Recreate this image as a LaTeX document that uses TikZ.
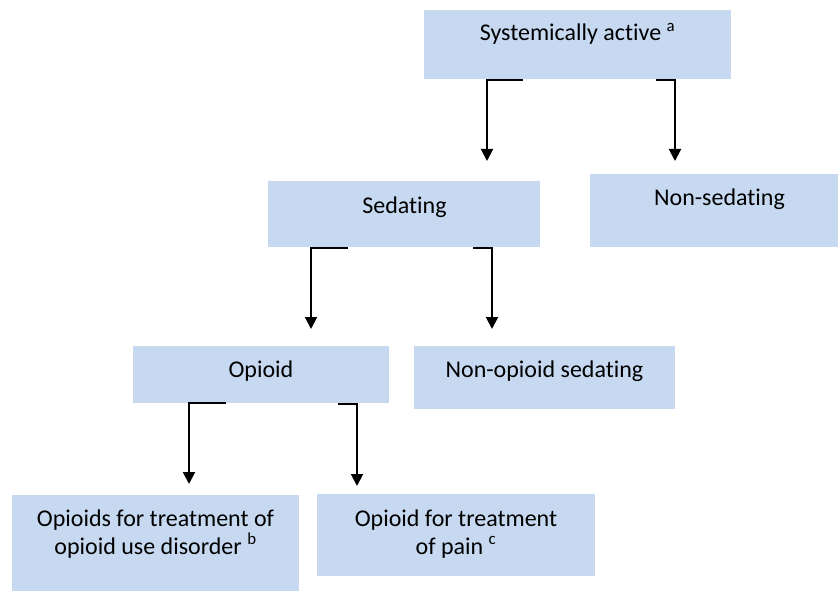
\documentclass[tikz,border=0pt]{standalone}
\usepackage{fontspec}
\setmainfont{Carlito}[Ligatures=NoCommon]
\usetikzlibrary{arrows.meta}
\definecolor{boxblue}{HTML}{C6D9F1}
\begin{document}
\begin{tikzpicture}[x=1pt,y=-1pt,
  box/.style={fill=boxblue, draw=none, inner sep=0pt, outer sep=0pt},
  lbl/.style={font=\fontsize{24}{28}\selectfont, anchor=base, align=center, inner sep=0pt},
  arr/.style={line width=2pt, line join=miter, -{Triangle[width=12pt,length=12pt]}}]
\useasboundingbox (0,0) rectangle (838,591);
% boxes
\node[box, minimum width=307pt, minimum height=69pt] (sys) at (577.5,44.5) {};
\node[box, minimum width=272pt, minimum height=66pt] (sed) at (404,214) {};
\node[box, minimum width=248pt, minimum height=73pt] (nonsed) at (714,210.5) {};
\node[box, minimum width=256pt, minimum height=57pt] (opi) at (261,374.5) {};
\node[box, minimum width=261pt, minimum height=63pt] (nonopi) at (544.5,377.5) {};
\node[box, minimum width=287pt, minimum height=96pt] (oud) at (155.5,543) {};
\node[box, minimum width=278pt, minimum height=82pt] (pain) at (456,535) {};
% labels
\node[lbl] (sysT) at (577.5,41) {Systemically active \textsuperscript{a}};
\node[lbl] (sedT) at (404.5,213) {Sedating};
\node[lbl] (nonsedT) at (719.5,205) {Non-sedating};
\node[lbl] (opiT) at (261,377) {Opioid};
\node[lbl] (nonopiT) at (544.5,377) {Non-opioid sedating};
\node[lbl] (oudT) at (155.5,554) {Opioids for treatment of\\opioid use disorder \textsuperscript{b}};
\node[lbl] (painT) at (456,554) {Opioid for treatment\\of pain \textsuperscript{c}};
% arrow end points
\coordinate (sedIn) at (487,161);
\coordinate (nonsedIn) at (675,161);
\coordinate (opiIn) at (311,329);
\coordinate (nonopiIn) at (492,329);
\coordinate (oudIn) at (189,484);
\coordinate (painIn) at (357,486);
% connectors
\draw[arr] ([shift={(99,1)}]sys.south west) -| (sedIn);
\draw[arr] ([shift={(232,1)}]sys.south west) -| (nonsedIn);
\draw[arr] ([shift={(80,1)}]sed.south west) -| (opiIn);
\draw[arr] ([shift={(205,1)}]sed.south west) -| (nonopiIn);
\draw[arr] ([shift={(93,0)}]opi.south west) -| (oudIn);
\draw[arr] ([shift={(205,1)}]opi.south west) -| (painIn);
\end{tikzpicture}
\end{document}
